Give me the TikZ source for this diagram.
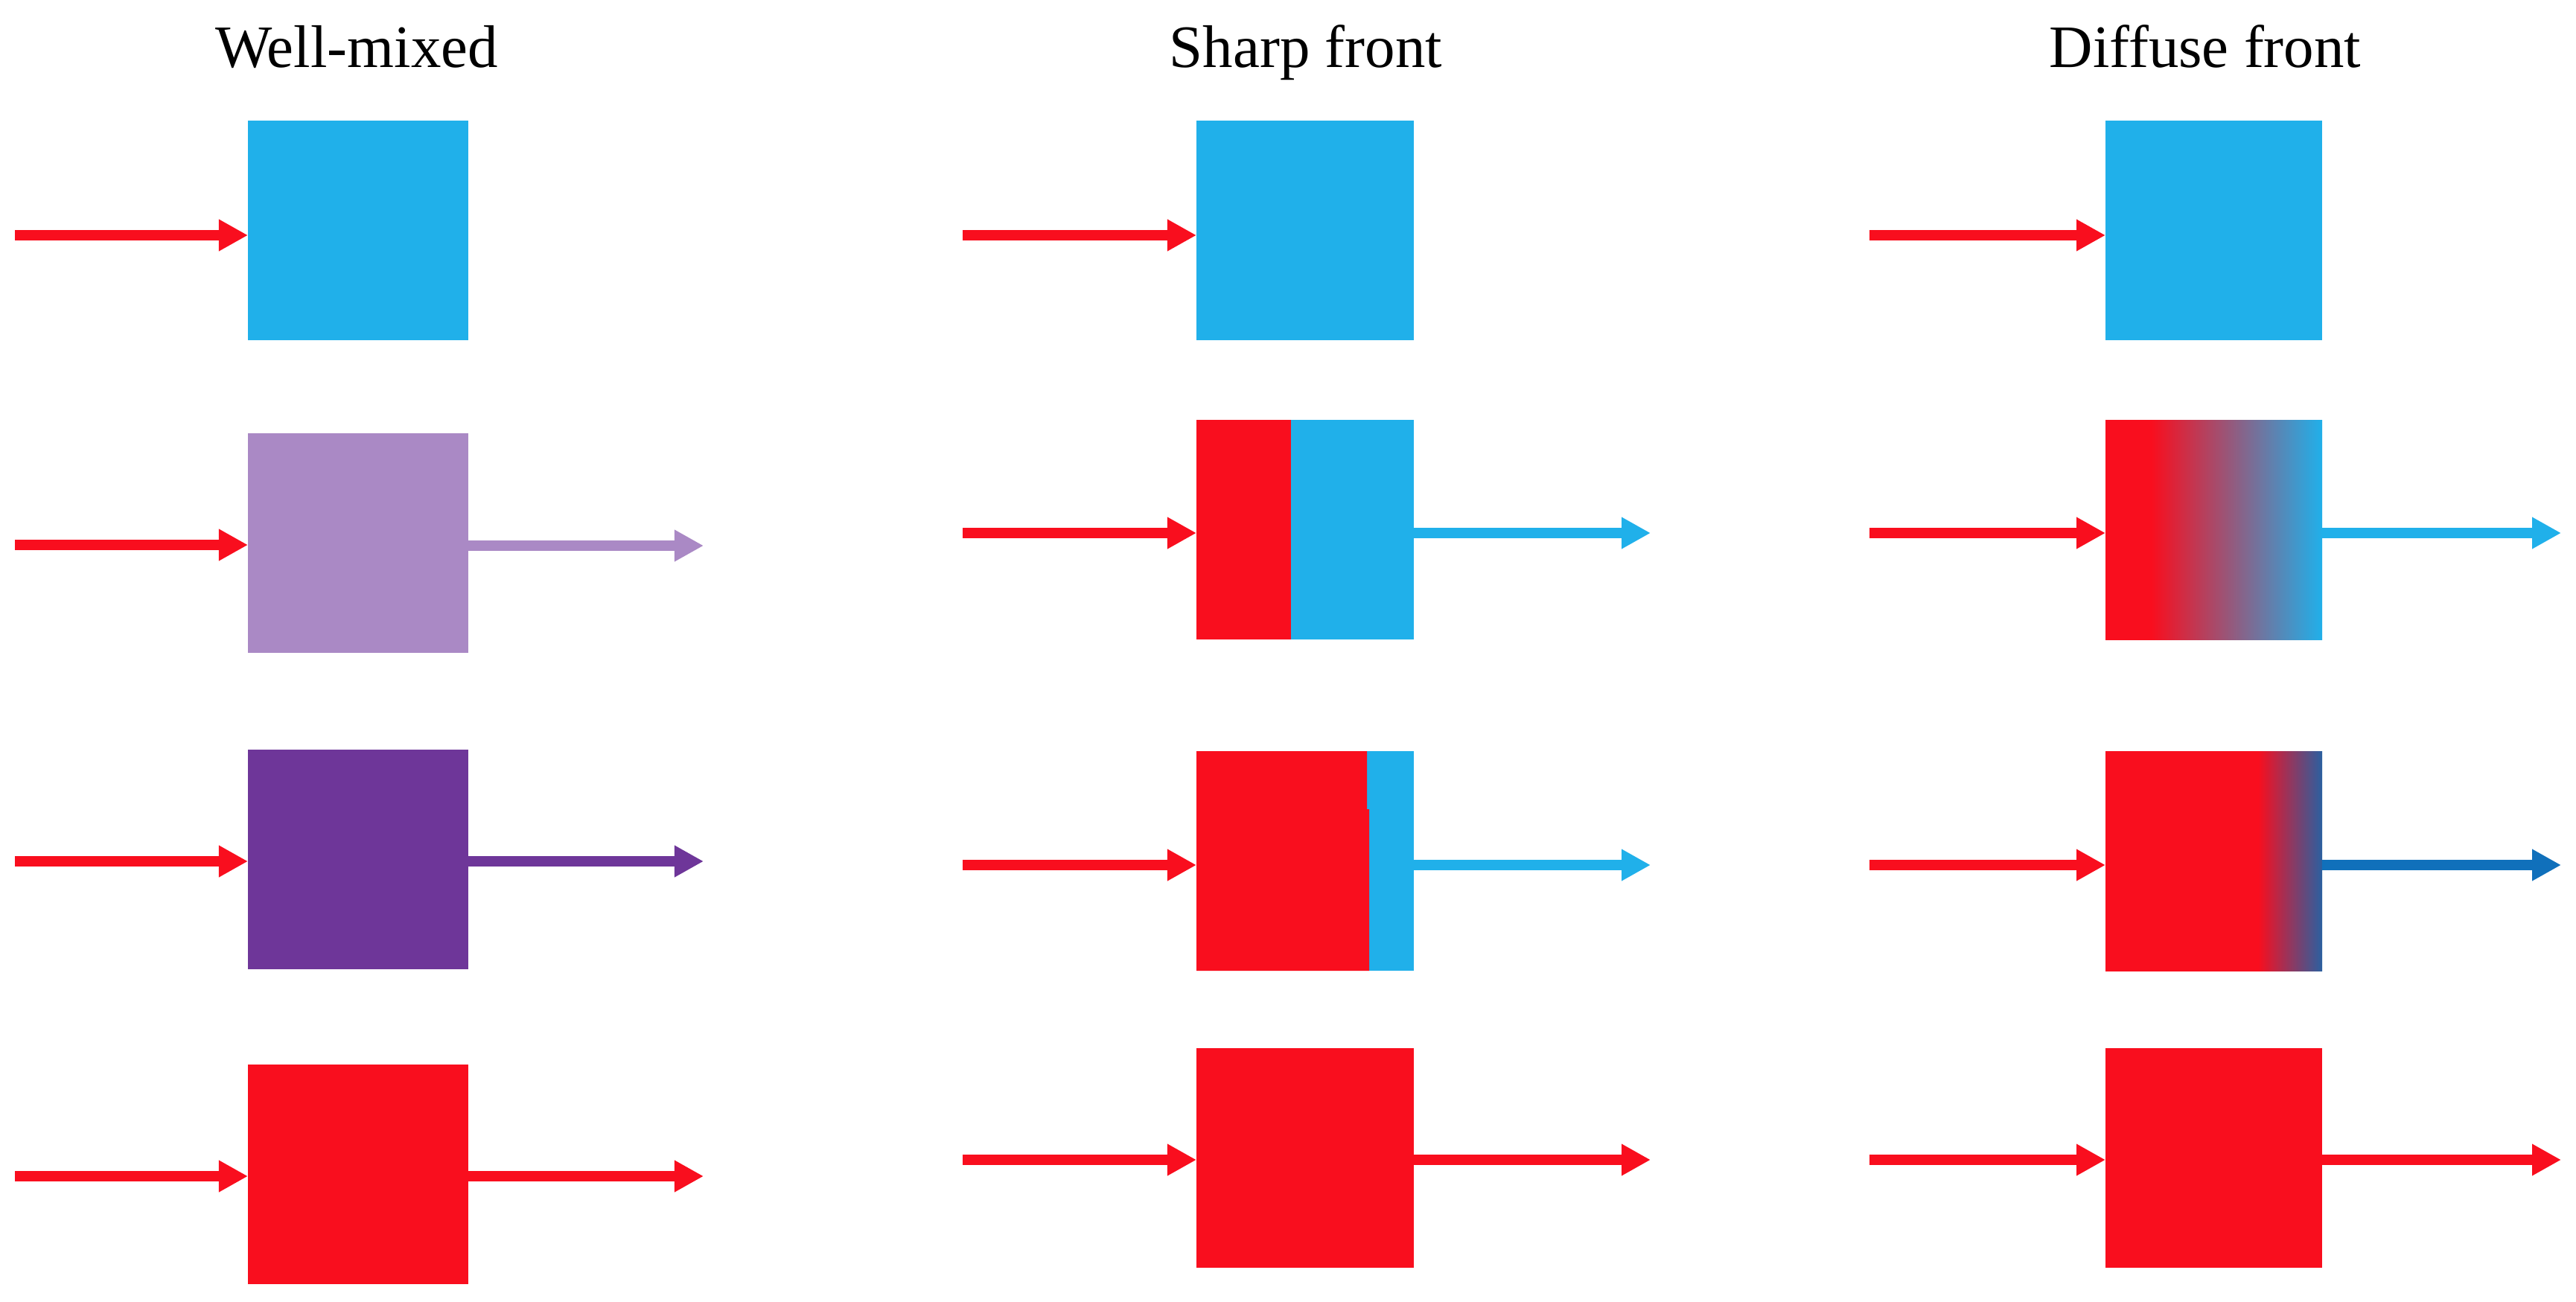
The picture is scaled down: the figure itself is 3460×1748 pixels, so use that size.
\documentclass[tikz,border=0pt]{standalone}
\usepackage{fontspec}
\setmainfont{Liberation Serif}
\usetikzlibrary{arrows.meta}
\definecolor{cred}{RGB}{249,14,30}
\definecolor{cblue}{RGB}{32,176,234}
\definecolor{clpurple}{RGB}{170,137,197}
\definecolor{cdpurple}{RGB}{110,54,153}
\definecolor{cdblue}{RGB}{16,112,187}
\definecolor{cedge}{RGB}{42,96,160}
% box left edge = 25bp, right edge = 75bp
\pgfdeclarehorizontalshading{diffwide}{100bp}{color(0bp)=(cred); color(35.6bp)=(cred); color(75bp)=(cblue); color(100bp)=(cblue)}
\pgfdeclarehorizontalshading{diffnarrow}{100bp}{color(0bp)=(cred); color(60.2bp)=(cred); color(75bp)=(cedge); color(100bp)=(cedge)}
\begin{document}
\begin{tikzpicture}[x=0.01cm,y=-0.01cm,
  box/.style={minimum height=2.95cm, inner sep=0pt, outer sep=0pt, draw=none, anchor=north west},
  boxA/.style={box, minimum width=2.96cm},
  boxB/.style={box, minimum width=2.92cm},
  boxC/.style={box, minimum width=2.91cm},
  flow/.style={line width=0.14cm, -{Triangle[length=0.39cm,width=0.40cm]}},
  title/.style={font=\fontsize{23}{28}\selectfont, anchor=base, inner sep=0pt}]
\useasboundingbox (0,0) rectangle (3460,1748);

% titles
\node[title] (t1) at (479,90) {Well-mixed};
\node[title] (t2) at (1754,90) {Sharp front};
\node[title] (t3) at (2962,90) {Diffuse front};

% ---------- column 1: well-mixed ----------
\node[boxA, fill=cblue]    (b11) at (333,162) {};
\node[boxA, fill=clpurple] (b12) at (333,582) {};
\node[boxA, fill=cdpurple] (b13) at (333,1007) {};
\node[boxA, fill=cred]     (b14) at (333,1430) {};

\coordinate (i11) at (20,316);
\coordinate (i12) at (20,732);
\coordinate (i13) at (20,1157);
\coordinate (i14) at (20,1580);
\coordinate (o12) at (945,733);
\coordinate (o13) at (945,1157);
\coordinate (o14) at (945,1580);

\draw[flow, cred] (i11) -- (i11 -| b11.west);
\draw[flow, cred] (i12) -- (i12 -| b12.west);
\draw[flow, cred] (i13) -- (i13 -| b13.west);
\draw[flow, cred] (i14) -- (i14 -| b14.west);
\draw[flow, clpurple] (o12 -| b12.east) -- (o12);
\draw[flow, cdpurple] (o13 -| b13.east) -- (o13);
\draw[flow, cred] (o14 -| b14.east) -- (o14);

% ---------- column 2: sharp front ----------
\node[boxB, fill=cblue] (b21) at (1607,162) {};
\node[boxB, fill=cblue] (b22) at (1607,564) {};
\node[boxB, fill=cblue] (b23) at (1607,1009) {};
\node[boxB, fill=cred]  (b24) at (1607,1408) {};
\fill[cred] (b22.north west) rectangle ([xshift=1.27cm]b22.south west);
\fill[cred] (b23.north west) -- ++(229,0) -- ++(0,78) -- ++(3,0) |- (b23.south west) -- cycle;

\coordinate (i21) at (1293,316);
\coordinate (i22) at (1293,716);
\coordinate (i23) at (1293,1162);
\coordinate (i24) at (1293,1558);
\coordinate (o22) at (2217,716);
\coordinate (o23) at (2217,1162);
\coordinate (o24) at (2217,1558);

\draw[flow, cred] (i21) -- (i21 -| b21.west);
\draw[flow, cred] (i22) -- (i22 -| b22.west);
\draw[flow, cred] (i23) -- (i23 -| b23.west);
\draw[flow, cred] (i24) -- (i24 -| b24.west);
\draw[flow, cblue] (o22 -| b22.east) -- (o22);
\draw[flow, cblue] (o23 -| b23.east) -- (o23);
\draw[flow, cred] (o24 -| b24.east) -- (o24);

% ---------- column 3: diffuse front ----------
\node[boxC, fill=cblue] (b31) at (2828,162) {};
\node[boxC]             (b32) at (2828,564) {};
\node[boxC]             (b33) at (2828,1009) {};
\node[boxC, fill=cred]  (b34) at (2828,1408) {};
\shade[shading=diffwide] (b32.north west) rectangle (b32.south east);
\shade[shading=diffnarrow] (b33.north west) rectangle (b33.south east);

\coordinate (i31) at (2511,316);
\coordinate (i32) at (2511,716);
\coordinate (i33) at (2511,1162);
\coordinate (i34) at (2511,1558);
\coordinate (o32) at (3440,716);
\coordinate (o33) at (3440,1162);
\coordinate (o34) at (3440,1558);

\draw[flow, cred] (i31) -- (i31 -| b31.west);
\draw[flow, cred] (i32) -- (i32 -| b32.west);
\draw[flow, cred] (i33) -- (i33 -| b33.west);
\draw[flow, cred] (i34) -- (i34 -| b34.west);
\draw[flow, cblue] (o32 -| b32.east) -- (o32);
\draw[flow, cdblue] (o33 -| b33.east) -- (o33);
\draw[flow, cred] (o34 -| b34.east) -- (o34);
\end{tikzpicture}
\end{document}
